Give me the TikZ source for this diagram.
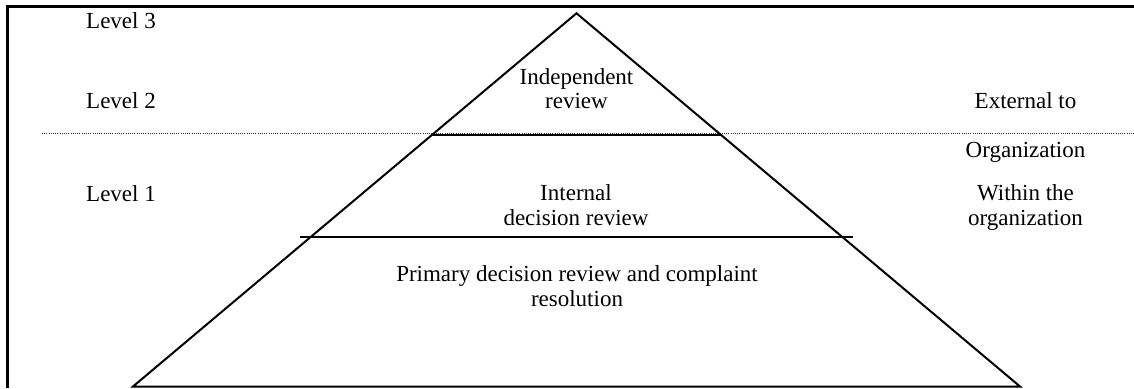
\documentclass[tikz,border=0pt]{standalone}
\usepackage{fontspec}
\setmainfont{Liberation Serif}
\begin{document}
\begin{tikzpicture}[x=1pt,y=-1pt,
  txt/.style={inner sep=0pt, font=\fontsize{23}{24.5}\selectfont, align=center},
  lvl/.style={inner sep=0pt, font=\fontsize{23}{24.5}\selectfont, anchor=base west},
  frame/.style={line width=3pt},
  pyr/.style={line width=2pt, line join=miter},
  tier/.style={line width=2pt},
  sep/.style={line width=1.2pt, dash pattern=on 1pt off 1.2pt, black!80}]
\useasboundingbox (0,0) rectangle (1134,388);
% frame
\coordinate (ftl) at (6,6.5);
\coordinate (ftr) at (1134,6.5);
\coordinate (flt) at (7.5,5);
\coordinate (flb) at (7.5,388);
\draw[frame] (ftl) -- (ftr);
\draw[frame] (flt) -- (flb);
% dotted separator
\coordinate (sepL) at (42,133.5);
\coordinate (sepR) at (1134,133.5);
\draw[sep] (sepL) -- (sepR);
% pyramid
\coordinate (apex) at (576.5,13.3);
\coordinate (bl) at (133,386.5);
\coordinate (br) at (1020,386.5);
\draw[pyr] (bl) -- (apex) -- (br) -- cycle;
\coordinate (t1l) at (432.5,134.5);
\coordinate (t1r) at (720.5,134.5);
\draw[tier] (t1l) -- (t1r);
\coordinate (t2l) at (300,236.5);
\coordinate (t2r) at (853,236.5);
\draw[tier] (t2l) -- (t2r);
% level labels
\node[lvl] (lv3) at (86,28) {Level 3};
\node[lvl] (lv2) at (86,108) {Level 2};
\node[lvl] (lv1) at (86,201) {Level 1};
% pyramid texts (base = last line)
\node[txt, anchor=base] (indep) at (576.5,108.5) {Independent\\review};
\node[txt, anchor=base] (internal) at (576,225) {Internal\\decision review};
\node[txt, anchor=base] (primary) at (577,306) {Primary decision review and complaint\\resolution};
% right texts
\node[txt, anchor=base] (ext) at (1025.5,108) {External to};
\node[txt, anchor=base] (org) at (1025.5,157) {Organization};
\node[txt, anchor=base] (within) at (1025.5,225) {Within the\\organization};
\end{tikzpicture}
\end{document}
